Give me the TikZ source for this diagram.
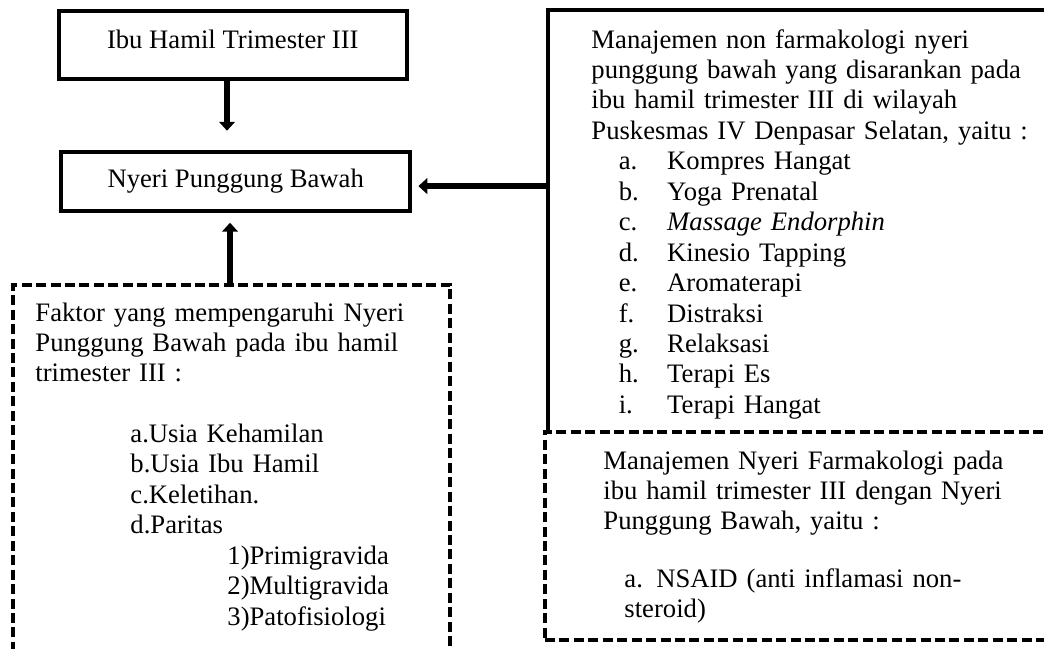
\documentclass[tikz,border=0pt]{standalone}
\usepackage{fontspec}
\setmainfont{Liberation Serif}
\usetikzlibrary{arrows.meta, positioning}
\tikzset{>={Triangle[width=7pt,length=4pt]}}
\tikzset{
  solidbox/.style={draw, line width=1.7pt, inner sep=0pt},
  dashbox/.style={draw, line width=1.7pt, dash pattern=on 4.5pt off 2pt, inner sep=0pt},
  txt/.style={inner sep=0pt, font=\fontsize{12}{13.7}\selectfont},
  para/.style={txt, anchor=base west, align=left},
  arr/.style={->, line width=2.8pt}
}
\newcommand{\jline}[2]{\makebox[#1][s]{#2}}
\newcommand{\litem}[2]{\hspace*{12.3pt}\makebox[21.8pt][l]{#1}#2}

\begin{document}
\begin{tikzpicture}[x=0.45pt, y=-0.45pt]
\useasboundingbox (0,0) rectangle (1044,648);
\clip (0,0) rectangle (1044,648);
\node[solidbox, txt, text depth=4.5pt, minimum width=156.7pt, minimum height=30.6pt] (box1) at (232.8,44.7) {Ibu Hamil Trimester III};
\node[solidbox, txt, minimum width=156.9pt, minimum height=26.6pt] (box2) at (235.7,181.5) {Nyeri Punggung Bawah};
\node[dashbox, minimum width=196.7pt, minimum height=186.9pt] (fakbox) at (231.8,492.4) {};
\node[solidbox, minimum width=239.3pt, minimum height=191.6pt] (nfbox) at (814.2,223.2) {};
\node[dashbox, fill=white, minimum width=240.8pt, minimum height=93.5pt] (farmbox) at (812.5,536.2) {};

\node[para, text width=174.6pt] (faktxt) at (35,321) {\jline{174.6pt}{Faktor yang mempengaruhi Nyeri}\\
  \jline{174.6pt}{Punggung Bawah pada ibu hamil}\\
  trimester III :\\[13.5pt]
  \hspace*{42.75pt}a.Usia Kehamilan\\
  \hspace*{42.75pt}b.Usia Ibu Hamil\\
  \hspace*{42.75pt}c.Keletihan.\\
  \hspace*{42.75pt}d.Paritas\\
  \hspace*{86.4pt}1)Primigravida\\
  \hspace*{86.4pt}2)Multigravida\\
  \hspace*{86.4pt}3)Patofisiologi};
\node[para, text width=191.3pt] (nftxt) at (591,48) {\jline{191.3pt}{Manajemen non farmakologi nyeri}\\
  \jline{191.3pt}{punggung bawah yang disarankan pada}\\
  \jline{191.3pt}{ibu hamil trimester III di wilayah}\\
  \makebox[191.3pt][l]{Puskesmas IV Denpasar Selatan, yaitu :}\\
  \litem{a.}{Kompres Hangat}\\
  \litem{b.}{Yoga Prenatal}\\
  \litem{c.}{\textit{Massage Endorphin}}\\
  \litem{d.}{Kinesio Tapping}\\
  \litem{e.}{Aromaterapi}\\
  \litem{f.}{Distraksi}\\
  \litem{g.}{Relaksasi}\\
  \litem{h.}{Terapi Es}\\
  \litem{i.}{Terapi Hangat}};
\node[para, text width=186.8pt] (farmtxt) at (603,469) {\jline{186.8pt}{Manajemen Nyeri Farmakologi pada}\\
  \jline{186.8pt}{ibu hamil trimester III dengan Nyeri}\\
  Punggung Bawah, yaitu :\\[12.1pt]
  \hspace*{9.45pt}\jline{161.5pt}{a. NSAID (anti inflamasi non-}\\
  \hspace*{9.45pt}steroid)};

\coordinate (a1) at ([xshift=-2.6pt]box1.south);
\coordinate (a2) at ([xshift=-0.8pt]fakbox.north);
\coordinate (a3) at ([yshift=16.7pt]nfbox.west);
\draw[arr, shorten >=8.7pt] (a1) -- (a1 |- box2.north);
\draw[arr, shorten >=4.4pt] (a2) -- (a2 |- box2.south);
\draw[arr, shorten >=2.9pt] (a3) -- (a3 -| box2.east);
\end{tikzpicture}
\end{document}
